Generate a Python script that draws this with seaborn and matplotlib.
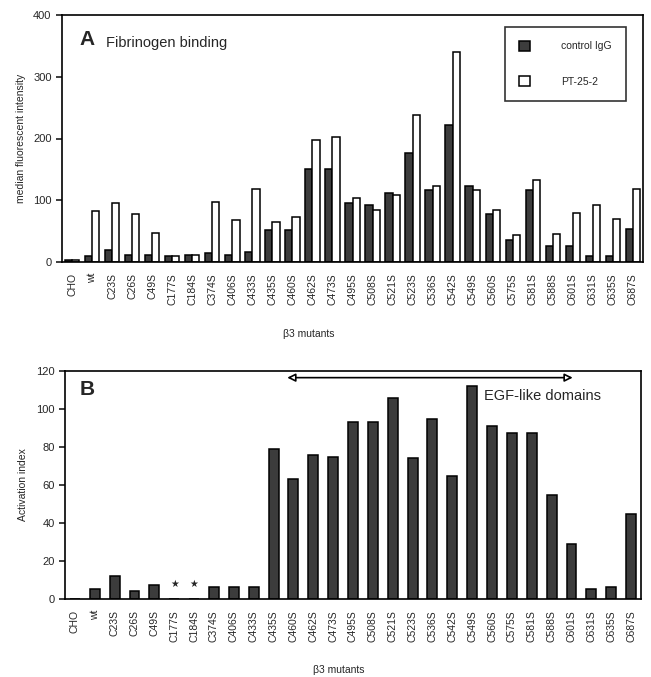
import matplotlib
matplotlib.use("Agg")

import pandas as pd
import matplotlib.pyplot as plt
import seaborn as sns

sns.set_theme(style="white")
plt.rcParams["font.family"] = ["Liberation Sans", "DejaVu Sans"]

mutants = ["CHO", "wt", "C23S", "C26S", "C49S", "C177S", "C184S", "C374S",
           "C406S", "C433S", "C435S", "C460S", "C462S", "C473S", "C495S",
           "C508S", "C521S", "C523S", "C536S", "C542S", "C549S", "C560S",
           "C575S", "C581S", "C588S", "C601S", "C631S", "C635S", "C687S"]

# panel A: median fluorescent intensity
control_igg = [4, 9, 19, 12, 12, 9, 12, 14, 12, 16, 52, 52, 151, 151, 96,
               92, 111, 176, 116, 222, 123, 78, 36, 116, 26, 26, 10, 10, 53]
pt_25_2 = [4, 82, 96, 77, 47, 9, 12, 97, 68, 118, 64, 73, 198, 203, 104,
           85, 109, 238, 123, 340, 116, 85, 43, 132, 45, 80, 93, 69, 118]

# panel B: activation index (C177S / C184S marked with stars, no bar)
activation = [0, 5.5, 12, 4, 7.5, 0, 0, 6.5, 6.5, 6.5, 79, 63, 76, 75, 93,
              93, 106, 74, 95, 64.5, 112, 91, 87.5, 87.5, 55, 29, 5.5, 6.5, 45]
starred = ["C177S", "C184S"]

W, H = 651, 677
fig = plt.figure(figsize=(W / 100, H / 100), dpi=100)

# ---------- A) Fibrinogen binding ----------
axA = fig.add_axes([62 / W, 1 - 262 / H, (643 - 62) / W, (262 - 15) / H])
dfA = pd.DataFrame({
    "mutant": mutants * 2,
    "value": control_igg + pt_25_2,
    "antibody": ["control IgG"] * len(mutants) + ["PT-25-2"] * len(mutants),
})
sns.barplot(data=dfA, x="mutant", y="value", hue="antibody", order=mutants,
            palette={"control IgG": "#3c3c3c", "PT-25-2": "white"},
            edgecolor="black", linewidth=1.1, width=0.72, ax=axA)
axA.set_ylim(0, 400)
axA.set_xlim(-0.5, len(mutants) - 0.5)
axA.set_yticks([0, 100, 200, 300, 400])
axA.set_ylabel("median fluorescent intensity", fontsize=7.5)
axA.set_xlabel("β3 mutants", fontsize=7.5)
axA.xaxis.set_label_coords(0.425, -0.27)
axA.yaxis.set_label_coords(-0.062, 0.5)
axA.tick_params(axis="x", rotation=90, labelsize=7.5, length=2, pad=6)
axA.tick_params(axis="y", labelsize=8, length=4, direction="out", left=True)
axA.text(0.03, 0.9, "A", transform=axA.transAxes, fontsize=15,
         fontweight="bold", va="center")
axA.text(0.075, 0.885, "Fibrinogen binding", transform=axA.transAxes,
         fontsize=10.5, va="center")
leg = axA.legend(loc="upper right", bbox_to_anchor=(0.97, 0.95),
                 fontsize=7.5, frameon=True, fancybox=False, edgecolor="black",
                 handlelength=1.1, handleheight=1.1, labelspacing=2.4,
                 borderpad=1.3, handletextpad=3.0, borderaxespad=0)
leg.get_frame().set_linewidth(1.2)

# ---------- B) Activation index ----------
axB = fig.add_axes([65 / W, 1 - 599 / H, (641 - 65) / W, (599 - 371) / H])
dfB = pd.DataFrame({"mutant": mutants, "activation": activation})
sns.barplot(data=dfB, x="mutant", y="activation", order=mutants,
            color="#3c3c3c", saturation=1, edgecolor="black", linewidth=1.1,
            width=0.5, ax=axB)
axB.set_ylim(0, 120)
axB.set_xlim(-0.5, len(mutants) - 0.5)
axB.set_yticks(range(0, 121, 20))
axB.set_ylabel("Activation index", fontsize=7.5)
axB.set_xlabel("β3 mutants", fontsize=7.5)
axB.xaxis.set_label_coords(0.475, -0.29)
axB.yaxis.set_label_coords(-0.065, 0.5)
axB.tick_params(axis="x", rotation=90, labelsize=7.5, length=2, pad=6)
axB.tick_params(axis="y", labelsize=8, length=4, direction="out", left=True)
for m in starred:
    axB.text(mutants.index(m), 8, "★", ha="center", va="center", fontsize=7,
             family=["DejaVu Sans"])
axB.text(0.025, 0.92, "B", transform=axB.transAxes, fontsize=15,
         fontweight="bold", va="center")
axB.annotate("", xy=(10.55, 116.5), xytext=(25.2, 116.5),
             arrowprops=dict(arrowstyle="<|-|>", fc="white", ec="black",
                             lw=1.2, mutation_scale=12))
axB.text(20.6, 107, "EGF-like domains", fontsize=10.5, va="center")

for ax in (axA, axB):
    for s in ax.spines.values():
        s.set_color("black")
        s.set_linewidth(1.2)

fig.savefig("out.png", dpi=100)
